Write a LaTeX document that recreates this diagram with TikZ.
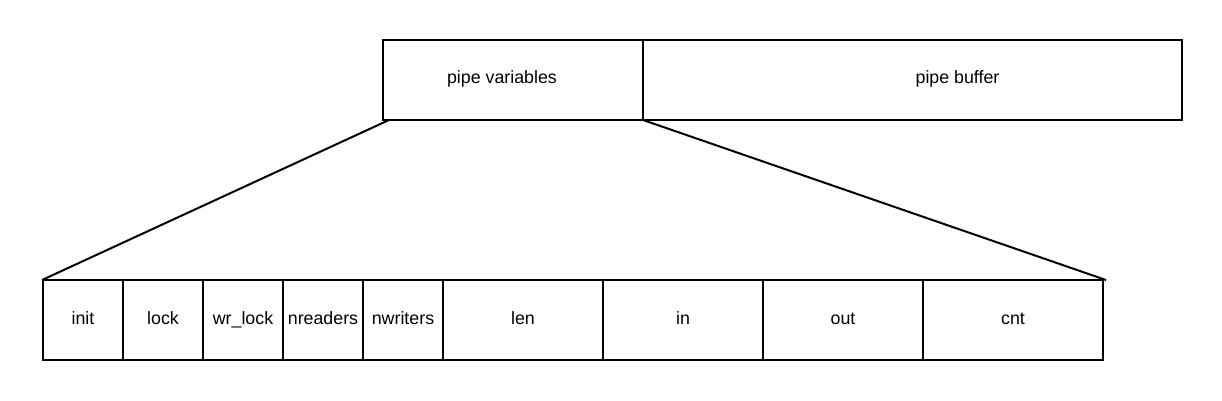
\documentclass[tikz,border=0pt]{standalone}
\usepackage{fontspec}
\setmainfont{Liberation Sans}
\usetikzlibrary{positioning}

\tikzset{
  field/.style={draw, line width=2pt, minimum height=80pt, inner sep=0pt, outer sep=0pt,
    text height=12.7pt, text depth=3.7pt, font=\fontsize{17.8}{21}\selectfont},
}

\begin{document}
\begin{tikzpicture}[x=1pt, y=-1pt, line width=2pt]

    \useasboundingbox (0,0) rectangle (1222,400);

    % Pipe memory layout
    \node[field, minimum width=260pt] (vars) at (513,80) {\hspace*{-22pt}\raisebox{1.5pt}{pipe variables}};
    \node[field, minimum width=539pt, right=0pt of vars] (buffer) {\raisebox{1.5pt}{pipe buffer}\hspace*{-90pt}};

    % Fields of the pipe variables
    \node[field, minimum width=80pt] (init) at (83,320) {init};
    \node[field, minimum width=80pt, right=0pt of init] (lock) {lock};
    \node[field, minimum width=80pt, right=0pt of lock] (wrlock) {wr\_lock};
    \node[field, minimum width=80pt, right=0pt of wrlock] (nreaders) {nreaders};
    \node[field, minimum width=80pt, right=0pt of nreaders] (nwriters) {nwriters};
    \node[field, minimum width=160pt, right=0pt of nwriters] (len) {len};
    \node[field, minimum width=160pt, right=0pt of len] (in) {in};
    \node[field, minimum width=160pt, right=0pt of in] (out) {out};
    \node[field, minimum width=180pt, right=0pt of out] (cnt) {cnt};

    % Zoom lines
    \draw ([xshift=6pt]vars.south west) -- ([xshift=-1pt]init.north west);
    \draw (vars.south east) -- ([xshift=3pt]cnt.north east);

\end{tikzpicture}
\end{document}
